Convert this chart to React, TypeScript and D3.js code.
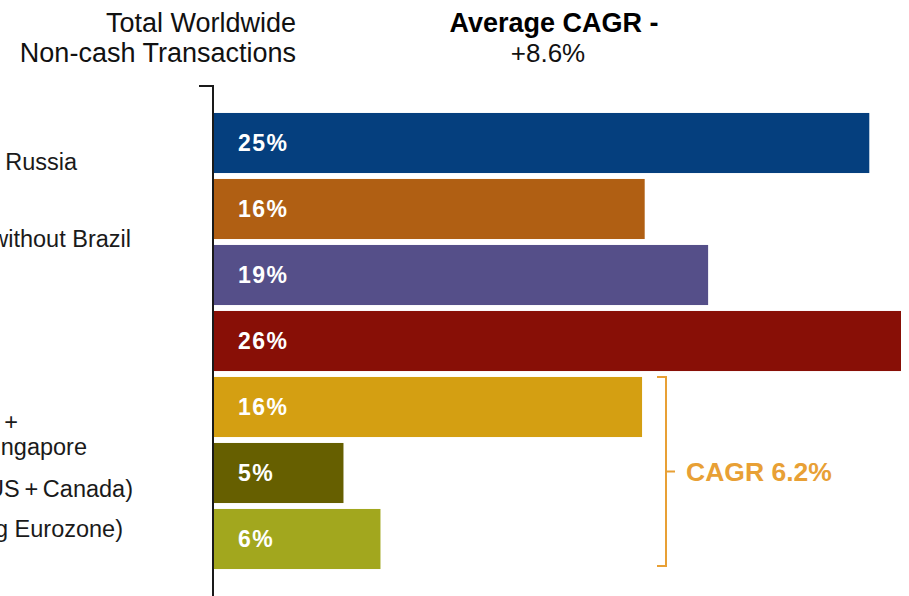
import React from "react";
import * as d3 from "d3";

const regions = [
  "Central Europe, Middle East, Africa & Russia",
  "Latin America without Brazil",
  "Brazil",
  "Emerging Asia",
  "Mature Asia-Pacific",
  "North America",
  "Europe",
];
const growth = [24.8, 16.3, 18.7, 26.0, 16.2, 4.9, 6.3];
const barColors = ["#053f7e", "#b05f13", "#554f89", "#880f06", "#d49f12", "#665f00", "#a2a71e"];

// Visible (right-hand) ends of the category labels, lines per label
const labelLines: { row: number; lines: string[] }[] = [
  { row: 0, lines: ["Africa & Russia"] },
  { row: 1, lines: ["Latin America without Brazil"] },
  { row: 4, lines: ["Japan + Australia + South Korea +", "Singapore"] },
  { row: 5, lines: ["North America (US\u2009+\u2009Canada)"] },
  { row: 6, lines: ["Europe (including Eurozone)"] },
];
const labelEndX = [[77], [131], [18, 87], [133], [123]];
const labelBaseY = [[170], [247], [430, 455], [497], [537]];

const titleLeft = ["Total Worldwide", "Non-cash Transactions"];
const titleCenter = ["Average CAGR -", "+8.6%"];
const bracketText = "CAGR 6.2%";
const bracketRows = [4, 6];

const W = 909;
const H = 596;
const FONT = "'Liberation Sans', Arial, Helvetica, sans-serif";

export default function App() {
  const x = d3.scaleLinear().domain([0, 26]).range([214, 901]);
  const y = d3
    .scaleBand<number>()
    .domain(d3.range(regions.length))
    .range([110, 572])
    .paddingInner(0.09)
    .paddingOuter(0.045);
  const fmt = d3.format(".0f");

  const bTop = y(bracketRows[0])!;
  const bBot = y(bracketRows[1])! + y.bandwidth() - 3;
  const bMid = (bTop + bBot) / 2;
  const bx = 666;
  const orange = "#e8a035";

  return (
    <svg
      width={W}
      height={H}
      style={{ position: "absolute", left: 0, top: 0, background: "#fff" }}
      fontFamily={FONT}
    >
      {/* headers */}
      {titleLeft.map((t, i) => (
        <text key={t} x={296} y={32 + i * 30} textAnchor="end" fontSize={27} fill="#111">
          {t}
        </text>
      ))}
      <text x={554} y={32} textAnchor="middle" fontSize={27} fontWeight="bold" fill="#000">
        {titleCenter[0]}
      </text>
      <text x={548} y={62} textAnchor="middle" fontSize={26} fill="#111">
        {titleCenter[1]}
      </text>

      {/* category labels */}
      {labelLines.map((l, i) =>
        l.lines.map((line, j) => (
          <text
            key={`${i}-${j}`}
            x={labelEndX[i][j]}
            y={labelBaseY[i][j]}
            textAnchor="end"
            fontSize={23.5}
            fill="#1a1a1a"
          >
            {line}
          </text>
        ))
      )}

      {/* bars */}
      {growth.map((v, i) => (
        <g key={i}>
          <rect
            x={x(0)}
            y={y(i)!}
            width={x(v) - x(0)}
            height={y.bandwidth()}
            fill={barColors[i]}
          />
          <text
            x={238}
            y={y(i)! + y.bandwidth() / 2 + 8}
            fontSize={23}
            fontWeight="bold"
            fill="#fff"
            letterSpacing={1.5}
          >
            {fmt(v) + "%"}
          </text>
        </g>
      ))}

      {/* axis */}
      <path d={`M199,86H213V${H}`} fill="none" stroke="#1a1a1a" strokeWidth={2} />

      {/* bracket */}
      <path
        d={`M657,${bTop}H${bx}V${bBot}H657M${bx},${bMid}H675`}
        fill="none"
        stroke={orange}
        strokeWidth={2}
      />
      <text x={686} y={bMid + 9} fontSize={26.5} fontWeight="bold" fill={orange}>
        {bracketText}
      </text>
    </svg>
  );
}
